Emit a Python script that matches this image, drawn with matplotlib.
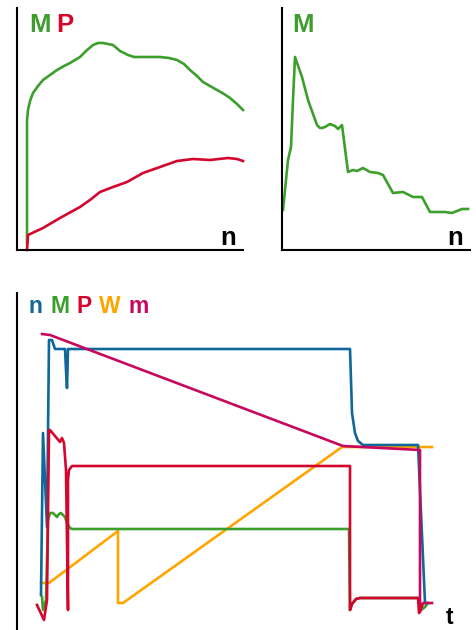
import matplotlib.pyplot as plt

plt.rcParams['font.family'] = ['Liberation Sans', 'DejaVu Sans']

W, H = 477, 630

green = '#3c9f2c'
red = '#d4062e'
blue = '#0f679a'
orange = '#ffa500'
magenta = '#c6085e'

# top left: M and P over n
tl_m_x = [10, 10, 11, 13, 16, 21, 26, 33, 40, 47, 53, 58, 63, 69, 76, 81, 86, 91, 96, 103, 111, 117, 123, 133, 143, 152, 160, 167, 173, 180, 186, 193, 200, 207, 213, 220, 226]
tl_m_y = [7, 130, 140, 149, 157, 164, 170, 175, 180, 184, 187, 190, 193, 199, 205, 207, 207, 206, 205, 199, 195, 193, 193, 193, 193, 192, 190, 186, 180, 174, 168, 164, 160, 156, 152, 146, 140]
tl_p_x = [10, 11, 26, 43, 63, 73, 83, 96, 110, 126, 143, 160, 176, 193, 211, 220, 226]
tl_p_y = [0, 15, 22, 32, 43, 50, 58, 63, 68, 77, 83, 89, 91, 90, 92, 91, 89]

# top right: M over n
tr_m_x = [1, 6, 9, 11, 13, 20, 26, 35, 38, 40, 43, 48, 53, 56, 60, 66, 71, 75, 81, 88, 96, 101, 111, 121, 131, 140, 148, 163, 170, 175, 180, 186]
tr_m_y = [40, 90, 103, 150, 193, 173, 150, 125, 122, 122, 123, 126, 124, 121, 125, 78, 80, 79, 82, 78, 77, 75, 57, 58, 53, 53, 38, 38, 37, 39, 41, 41]

# bottom: n, M, P, W, m over t
b_n_x = [24, 26, 30, 32, 35, 38, 48, 49, 50, 51, 333, 334, 335, 338, 341, 346, 401, 408]
b_n_y = [35, 197, 103, 290, 290, 281, 281, 260, 242, 281, 281, 250, 217, 197, 189, 185, 185, 27]
b_m_x = [25, 26, 29, 31, 33, 36, 38, 40, 42, 44, 46, 48, 50, 53, 55, 332, 333, 335, 339, 343, 401, 404, 408, 411]
b_m_y = [33, 20, 30, 110, 117, 117, 115, 113, 116, 117, 115, 113, 107, 102, 101, 101, 20, 26, 31, 32, 32, 20, 23, 27]
b_p_x = [20, 27, 30, 32, 33, 43, 45, 47, 49, 50, 51, 51, 52, 55, 333, 333, 335, 339, 343, 401, 402, 405]
b_p_y = [25, 10, 30, 200, 200, 188, 192, 187, 160, 90, 20, 150, 160, 164, 164, 20, 26, 31, 32, 32, 17, 25]
b_w_x = [24, 32, 101, 101, 106, 325, 415]
b_w_y = [47, 47, 99, 27, 27, 183, 183]
b_mm_x = [25, 33, 326, 403, 403, 406, 415]
b_mm_y = [296, 295, 184, 180, 18, 27, 27]


def px_axes(left, top, right, bottom):
    return fig.add_axes([left / W, 1 - bottom / H, (right - left) / W, (bottom - top) / H])


def style(ax, bottom=True):
    for s in ['top', 'right']:
        ax.spines[s].set_visible(False)
    ax.spines['bottom'].set_visible(bottom)
    for s in ['left', 'bottom']:
        ax.spines[s].set_linewidth(1.5)
    ax.set_xticks([])
    ax.set_yticks([])
    ax.patch.set_alpha(0)


def label(x, y, s, color, size=18.5):
    fig.text(x / W, 1 - y / H, s, color=color, fontsize=size, fontweight='bold', va='baseline', ha='left')


fig = plt.figure(figsize=(W / 100, H / 100), dpi=100)
lw = 1.9

ax1 = px_axes(17, 8, 243, 250)
ax1.plot(tl_m_x, tl_m_y, color=green, lw=lw, clip_on=False)
ax1.plot(tl_p_x, tl_p_y, color=red, lw=lw, clip_on=False)
ax1.set_xlim(0, 226)
ax1.set_ylim(0, 242)
style(ax1)

ax2 = px_axes(282, 8, 470, 250)
ax2.plot(tr_m_x, tr_m_y, color=green, lw=lw, clip_on=False)
ax2.set_xlim(0, 188)
ax2.set_ylim(0, 242)
style(ax2)

ax3 = px_axes(17, 293, 470, 630)
ax3.plot(b_w_x, b_w_y, color=orange, lw=lw, clip_on=False)
ax3.plot(b_m_x, b_m_y, color=green, lw=lw, clip_on=False)
ax3.plot(b_n_x, b_n_y, color=blue, lw=lw, clip_on=False)
ax3.plot(b_mm_x, b_mm_y, color=magenta, lw=lw, clip_on=False)
ax3.plot(b_p_x, b_p_y, color=red, lw=lw, clip_on=False)
ax3.set_xlim(0, 453)
ax3.set_ylim(0, 337)
style(ax3, bottom=False)

label(29, 32, 'M', green)
label(56, 32, 'P', red)
label(220, 245, 'n', 'black')
label(292, 32, 'M', green)
label(447, 245, 'n', 'black')

label(29, 313, 'n', blue, 16.5)
label(51, 313, 'M', green, 16.5)
label(77, 313, 'P', red, 16.5)
label(99, 313, 'W', orange, 16.5)
label(128, 313, 'm', magenta, 16.5)
label(446, 624, 't', 'black', 16.5)

fig.savefig('out.png', dpi=100)
